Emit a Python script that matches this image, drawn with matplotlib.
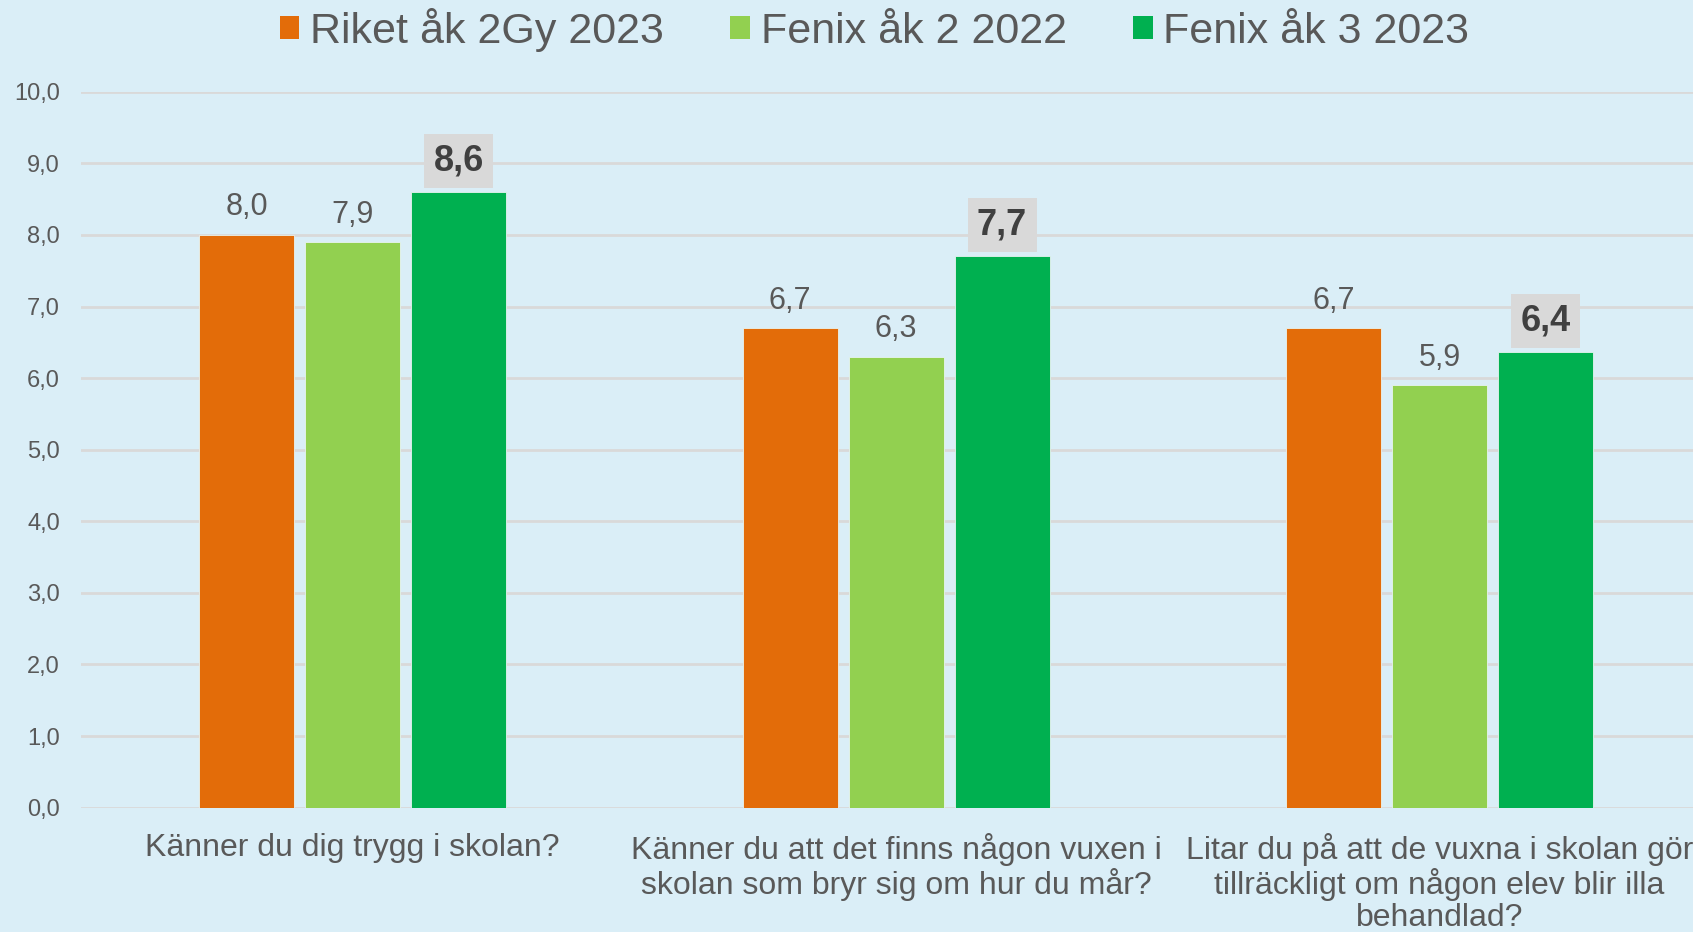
import matplotlib
matplotlib.use("Agg")
import matplotlib.pyplot as plt
from matplotlib.patches import Patch
import numpy as np

plt.rcParams['font.family'] = ['Liberation Sans', 'DejaVu Sans']

categories = [
    "Känner du dig trygg i skolan?",
    "Känner du att det finns någon vuxen i\nskolan som bryr sig om hur du mår?",
    "Litar du på att de vuxna i skolan gör\ntillräckligt om någon elev blir illa\nbehandlad?",
]
series_names = ["Riket åk 2Gy 2023", "Fenix åk 2 2022", "Fenix åk 3 2023"]
riket_2gy_2023 = [8.0, 6.7, 6.7]
fenix_ak2_2022 = [7.9, 6.3, 5.9]
fenix_ak3_2023 = [8.6, 7.7, 6.36]
yticks = [0, 1, 2, 3, 4, 5, 6, 7, 8, 9, 10]

colors = ["#E36C09", "#92D050", "#00B050"]
bg = "#DAEEF7"
txt = "#595959"

fig = plt.figure(figsize=(16.93, 9.32), dpi=100)
fig.patch.set_facecolor(bg)
ax = fig.add_axes([0.0478, 0.1335, 0.963, 0.768])
ax.set_facecolor(bg)

x = np.arange(len(categories))
w = 0.175
step = 0.195
series = [riket_2gy_2023, fenix_ak2_2022, fenix_ak3_2023]
for i, (vals, c) in enumerate(zip(series, colors)):
    pos = x + (i - 1) * step
    bars = ax.bar(pos, vals, width=w, color=c, edgecolor="#E8F4F0", linewidth=0.6, zorder=3)
    for b, v in zip(bars, vals):
        lab = f"{v:.1f}".replace(".", ",")
        if i == 2:
            ax.annotate(lab, (b.get_x() + b.get_width() / 2, v), xytext=(0, 10),
                        textcoords="offset points", ha="center", va="bottom",
                        fontsize=26, fontweight="bold", color="#404040",
                        bbox=dict(boxstyle="square,pad=0.26", fc="#D9D9D9", ec="none"),
                        zorder=5)
        else:
            ax.annotate(lab, (b.get_x() + b.get_width() / 2, v), xytext=(0, 9),
                        textcoords="offset points", ha="center", va="bottom",
                        fontsize=22, color=txt, zorder=5)

ax.set_xlim(-0.5, len(categories) - 0.5)
ax.set_ylim(0, 10)
ax.set_yticks(yticks)
ax.set_yticklabels([f"{t:.1f}".replace(".", ",") for t in yticks], fontsize=17, color=txt)
ax.set_xticks(x)
ax.set_xticklabels(categories, fontsize=23, color=txt, linespacing=1.1)
ax.tick_params(axis="both", length=0)
ax.tick_params(axis="y", pad=15)
ax.tick_params(axis="x", pad=18)
for s in ax.spines.values():
    s.set_visible(False)
ax.yaxis.grid(True, color="#D9D9D9", linewidth=2, zorder=0)
ax.set_axisbelow(True)

handles = [Patch(facecolor=c, edgecolor="none") for c in colors]
leg = fig.legend(handles, series_names, loc="center", bbox_to_anchor=(0.5166, 0.968),
                 ncol=3, frameon=False, fontsize=31, handlelength=0.45, handleheight=0.45,
                 handletextpad=0.25, columnspacing=1.55, borderaxespad=0)
for t in leg.get_texts():
    t.set_color(txt)

fig.savefig("out.png", dpi=100, facecolor=bg)
